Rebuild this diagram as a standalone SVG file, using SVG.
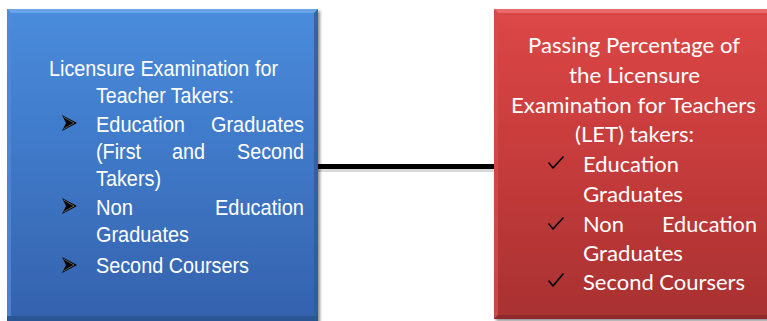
<svg xmlns="http://www.w3.org/2000/svg" width="767" height="321" viewBox="0 0 767 321">
  <defs>
    <linearGradient id="blueFill" x1="0" y1="0" x2="0" y2="1">
      <stop offset="0" stop-color="#4a8cdc"/>
      <stop offset="0.5" stop-color="#3e77c6"/>
      <stop offset="1" stop-color="#3461ac"/>
    </linearGradient>
    <linearGradient id="redFill" x1="0" y1="0" x2="0" y2="1">
      <stop offset="0" stop-color="#dd4747"/>
      <stop offset="0.5" stop-color="#c53b3b"/>
      <stop offset="1" stop-color="#a83131"/>
    </linearGradient>
    <filter id="shadow" x="-5%" y="-5%" width="115%" height="115%">
      <feGaussianBlur in="SourceAlpha" stdDeviation="1.5"/>
      <feOffset dx="2" dy="2"/>
      <feComponentTransfer><feFuncA type="linear" slope="0.45"/></feComponentTransfer>
      <feMerge><feMergeNode/><feMergeNode in="SourceGraphic"/></feMerge>
    </filter>
    <symbol id="arrowBullet" viewBox="0 0 15 16">
      <polygon points="0,0 15,8 0,16 4,8" fill="#000"/>
      <polyline points="1.5,2 12,8 1.5,14" fill="none" stroke="#777" stroke-width="0.8"/>
    </symbol>
  </defs>
  <style>
    .ltxt { font-family: "Liberation Sans", Arial, sans-serif; font-size: 22px; fill: #ffffff; }
    .rtxt { font-family: Lato, "Open Sans", sans-serif; font-size: 20.5px; fill: #ffffff; }
    .check { fill: none; stroke: #000; stroke-width: 1.6; stroke-linecap: round; stroke-linejoin: round; }
  </style>

  <rect width="767" height="321" fill="#ffffff"/>

  <!-- connector between the two boxes -->
  <g id="connectors">
    <rect x="318" y="167" width="177" height="5" fill="#000" opacity="0.15"/>
    <line x1="318" y1="166.5" x2="495" y2="166.5" stroke="#000" stroke-width="5"/>
  </g>

  <!-- left box: LET takers -->
  <g id="takers">
    <g filter="url(#shadow)">
      <rect x="7" y="9" width="311" height="316" fill="url(#blueFill)"/>
    </g>
    <polygon points="7,9 318,9 314,13 11,13" fill="#6aa3e6"/>
    <polygon points="7,9 11,13 11,321 7,321" fill="#4f8ad6" opacity="0.8"/>
    <polygon points="318,9 314,13 314,321 318,321" fill="#2f5a9f" opacity="0.8"/>
    <rect x="7" y="316" width="311" height="5" fill="#2c5596"/>

    <text class="ltxt" x="49" y="76" textLength="229" lengthAdjust="spacingAndGlyphs">Licensure Examination for</text>
    <text class="ltxt" x="96" y="103" textLength="138" lengthAdjust="spacingAndGlyphs">Teacher Takers:</text>

    <use href="#arrowBullet" x="62" y="115" width="15" height="16"/>
    <text class="ltxt" x="96" y="132" textLength="89" lengthAdjust="spacingAndGlyphs">Education</text>
    <text class="ltxt" x="211" y="132" textLength="93" lengthAdjust="spacingAndGlyphs">Graduates</text>
    <text class="ltxt" x="96" y="159" textLength="45" lengthAdjust="spacingAndGlyphs">(First</text>
    <text class="ltxt" x="172" y="159" textLength="33" lengthAdjust="spacingAndGlyphs">and</text>
    <text class="ltxt" x="237" y="159" textLength="67" lengthAdjust="spacingAndGlyphs">Second</text>
    <text class="ltxt" x="96" y="186" textLength="65" lengthAdjust="spacingAndGlyphs">Takers)</text>

    <use href="#arrowBullet" x="62" y="198" width="15" height="16"/>
    <text class="ltxt" x="96" y="215" textLength="37" lengthAdjust="spacingAndGlyphs">Non</text>
    <text class="ltxt" x="215" y="215" textLength="89" lengthAdjust="spacingAndGlyphs">Education</text>
    <text class="ltxt" x="96" y="242" textLength="93" lengthAdjust="spacingAndGlyphs">Graduates</text>

    <use href="#arrowBullet" x="62" y="257" width="15" height="16"/>
    <text class="ltxt" x="96" y="273" textLength="153" lengthAdjust="spacingAndGlyphs">Second Coursers</text>
  </g>

  <!-- right box: passing percentage -->
  <g id="passing">
    <g filter="url(#shadow)">
      <rect x="494" y="9" width="280" height="310" fill="url(#redFill)"/>
    </g>
    <polygon points="494,9 774,9 770,13 498,13" fill="#e96a6a"/>
    <polygon points="494,9 498,13 498,315 494,319" fill="#d24c4c" opacity="0.8"/>
    <polygon points="494,319 498,315 774,315 774,319" fill="#8f2828"/>

    <text class="rtxt" x="634" y="53" text-anchor="middle" textLength="212" lengthAdjust="spacingAndGlyphs">Passing Percentage of</text>
    <text class="rtxt" x="634.5" y="83" text-anchor="middle" textLength="131" lengthAdjust="spacingAndGlyphs">the Licensure</text>
    <text class="rtxt" x="633.5" y="113" text-anchor="middle" textLength="245" lengthAdjust="spacingAndGlyphs">Examination for Teachers</text>
    <text class="rtxt" x="634.5" y="142" text-anchor="middle" textLength="119" lengthAdjust="spacingAndGlyphs">(LET) takers:</text>

    <path class="check" d="M549,163 L553,168 L563,157"/>
    <text class="rtxt" x="583" y="172" textLength="96" lengthAdjust="spacingAndGlyphs">Education</text>
    <text class="rtxt" x="583" y="202" textLength="100" lengthAdjust="spacingAndGlyphs">Graduates</text>

    <path class="check" d="M549,224 L553,229 L563,218"/>
    <text class="rtxt" x="583" y="232" textLength="41" lengthAdjust="spacingAndGlyphs">Non</text>
    <text class="rtxt" x="662" y="232" textLength="95" lengthAdjust="spacingAndGlyphs">Education</text>
    <text class="rtxt" x="583" y="261" textLength="100" lengthAdjust="spacingAndGlyphs">Graduates</text>

    <path class="check" d="M549,281 L553,286 L563,274"/>
    <text class="rtxt" x="583" y="290" textLength="162" lengthAdjust="spacingAndGlyphs">Second Coursers</text>
  </g>
</svg>
